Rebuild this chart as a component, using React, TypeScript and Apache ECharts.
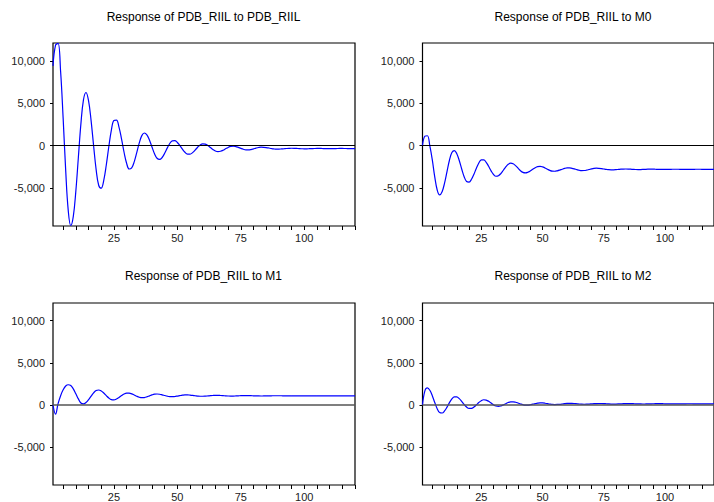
import React, { useEffect, useRef } from "react";
import * as echarts from "echarts";

const periods: string[] = Array.from({ length: 120 }, (_, i) => String(i + 1));

const titles = [
  "Response of PDB_RIIL to PDB_RIIL",
  "Response of PDB_RIIL to M0",
  "Response of PDB_RIIL to M1",
  "Response of PDB_RIIL to M2",
];

const yTickValues = [-5000, 0, 5000, 10000];
const xLabelValues = ["25", "50", "75", "100"];

const respPdbRiil = [
  9400, 11850, 12050, 8730, 3200, -2935, -7660, -9440, -8355, -5385,
  -1380, 2580, 5390, 6260, 5290, 2975, -25, -2845, -4690, -5040,
  -4115, -2300, -120, 1825, 2950, 3000, 2180, 785, -795, -2090,
  -2770, -2640, -1925, -840, 305, 1165, 1480, 1255, 645, -170,
  -965, -1505, -1645, -1415, -920, -310, 235, 555, 575, 360,
  -10, -430, -800, -1010, -1015, -840, -540, -200, 70, 195,
  160, 5, -225, -460, -645, -720, -680, -560, -390, -225,
  -110, -80, -125, -220, -335, -440, -510, -515, -475, -395,
  -305, -235, -200, -210, -240, -290, -350, -400, -428, -425,
  -405, -380, -355, -335, -325, -330, -345, -365, -380, -390,
  -388, -378, -365, -352, -345, -345, -352, -362, -370, -372,
  -368, -360, -352, -348, -348, -352, -358, -362, -362, -358,
];

const respM0 = [
  0, 1100, 1150, -50, -1700, -3700, -5250, -5830, -5455, -4435,
  -3070, -1740, -830, -595, -970, -1770, -2770, -3680, -4245, -4310,
  -3985, -3385, -2680, -2065, -1705, -1695, -1980, -2455, -2990, -3420,
  -3625, -3560, -3305, -2920, -2525, -2220, -2090, -2160, -2375, -2675,
  -2970, -3175, -3230, -3155, -3000, -2805, -2620, -2495, -2460, -2520,
  -2645, -2795, -2940, -3025, -3035, -2985, -2900, -2795, -2700, -2645,
  -2645, -2690, -2760, -2845, -2920, -2955, -2950, -2905, -2830, -2755,
  -2700, -2680, -2695, -2725, -2770, -2815, -2855, -2873, -2865, -2845,
  -2820, -2795, -2778, -2772, -2778, -2795, -2815, -2832, -2840, -2836,
  -2825, -2810, -2798, -2792, -2793, -2800, -2810, -2818, -2822, -2820,
  -2815, -2808, -2802, -2800, -2801, -2805, -2810, -2813, -2814, -2812,
  -2808, -2805, -2803, -2803, -2805, -2808, -2810, -2810, -2809, -2807,
];

const respM1 = [
  0, -1100, 150, 1100, 1800, 2250, 2400, 2310, 1910, 1330,
  720, 230, 135, 290, 620, 1040, 1440, 1710, 1775, 1660,
  1415, 1115, 820, 635, 605, 700, 885, 1110, 1300, 1405,
  1400, 1320, 1180, 1035, 920, 860, 880, 965, 1080, 1195,
  1280, 1300, 1270, 1200, 1120, 1040, 990, 980, 1005, 1055,
  1110, 1160, 1195, 1198, 1170, 1135, 1095, 1058, 1035, 1032,
  1045, 1070, 1100, 1125, 1138, 1138, 1125, 1105, 1082, 1065,
  1056, 1058, 1068, 1082, 1096, 1106, 1110, 1108, 1100, 1088,
  1076, 1068, 1065, 1066, 1072, 1080, 1088, 1093, 1095, 1094,
  1090, 1084, 1078, 1074, 1072, 1073, 1077, 1082, 1086, 1088,
  1088, 1086, 1082, 1079, 1077, 1077, 1078, 1081, 1083, 1084,
  1084, 1083, 1081, 1080, 1079, 1079, 1080, 1081, 1082, 1082,
];

const respM2 = [
  0, 1700, 2030, 1740, 1095, 290, -445, -905, -955, -715,
  -260, 270, 725, 965, 955, 755, 430, 60, -250, -415,
  -405, -245, 10, 290, 510, 615, 580, 435, 225, 15,
  -130, -170, -115, 5, 150, 285, 365, 375, 325, 230,
  120, 25, -25, -20, 20, 90, 160, 220, 250, 240,
  205, 155, 105, 65, 50, 58, 80, 115, 155, 185,
  198, 192, 172, 145, 115, 93, 85, 90, 105, 128,
  152, 168, 175, 171, 158, 140, 122, 109, 105, 108,
  118, 132, 147, 157, 160, 157, 150, 139, 127, 118,
  115, 117, 123, 132, 141, 148, 151, 150, 146, 139,
  132, 126, 122, 121, 123, 128, 133, 138, 141, 142,
  140, 137, 133, 129, 127, 127, 128, 130, 133, 135,
];

const allSeries = [respPdbRiil, respM0, respM1, respM2];

const FONT = 'Arial, "Liberation Sans", sans-serif';

export default function App() {
  const ref = useRef<HTMLDivElement>(null);

  useEffect(() => {
    if (!ref.current) return;
    const chart = echarts.init(ref.current, null, { renderer: "svg" });

    const layouts = [
      { left: 53, top: 43, width: 302, height: 183 },
      { left: 422.5, top: 43, width: 302, height: 183 },
      { left: 53, top: 303, width: 302, height: 183.5 },
      { left: 422.5, top: 303, width: 302, height: 183.5 },
    ];

    const grids = layouts.map((l) => ({
      left: l.left,
      top: l.top,
      width: l.width,
      height: l.height,
      show: true,
      borderColor: "#000",
      borderWidth: 1.2,
      backgroundColor: "transparent",
      containLabel: false,
    }));

    const xAxes = layouts.map((_, i) => ({
      type: "category" as const,
      gridIndex: i,
      position: "bottom" as const,
      data: periods,
      boundaryGap: false,
      axisLine: { show: false, onZero: false },
      axisTick: {
        show: true,
        inside: false,
        length: 4,
        interval: (_idx: number, v: string) => Number(v) % 5 === 0,
        lineStyle: { color: "#000", width: 1 },
      },
      axisLabel: {
        show: true,
        interval: (_idx: number, v: string) => xLabelValues.indexOf(v) >= 0,
        margin: 6,
        color: "#222",
        fontSize: 11,
        fontFamily: FONT,
      },
      splitLine: { show: false },
    }));

    const yAxes = layouts.map((_, i) => ({
      type: "value" as const,
      gridIndex: i,
      min: -9500,
      max: 12100,
      axisLine: { show: false, onZero: false },
      axisTick: {
        show: true,
        length: 3,
        customValues: yTickValues,
        lineStyle: { color: "#000", width: 1 },
      },
      axisLabel: {
        show: true,
        customValues: yTickValues,
        margin: 8,
        color: "#222",
        fontSize: 11,
        fontFamily: FONT,
        padding: [0, 0, 5, 0],
        formatter: (v: number) => v.toLocaleString("en-US"),
      },
      splitLine: { show: false },
    }));

    const series = allSeries.map((data, i) => ({
      type: "line" as const,
      xAxisIndex: i,
      yAxisIndex: i,
      data,
      showSymbol: false,
      symbol: "none",
      smooth: 0.4,
      lineStyle: { color: "#0000ff", width: 1.2 },
      clip: true,
      silent: true,
      markLine: {
        silent: true,
        symbol: ["none", "none"],
        label: { show: false },
        lineStyle: {
          color: i < 2 ? "#000" : "#555",
          width: i < 2 ? 1 : 1.5,
          type: "solid",
        },
        data: [{ yAxis: 0 }],
      },
    }));

    const graphic = layouts.map((l, i) => ({
      type: "text" as const,
      x: l.left + l.width / 2 - 0.5,
      y: i < 2 ? 17 : 276,
      style: {
        text: titles[i],
        fill: "#000",
        font: `12px ${FONT}`,
        textAlign: "center",
        textVerticalAlign: "middle",
      },
    }));

    chart.setOption({
      animation: false,
      backgroundColor: "#fff",
      grid: grids,
      xAxis: xAxes,
      yAxis: yAxes,
      series,
      graphic,
    });

    return () => chart.dispose();
  }, []);

  return (
    <div
      ref={ref}
      style={{ position: "absolute", left: 0, top: 0, width: 714, height: 502 }}
    />
  );
}
